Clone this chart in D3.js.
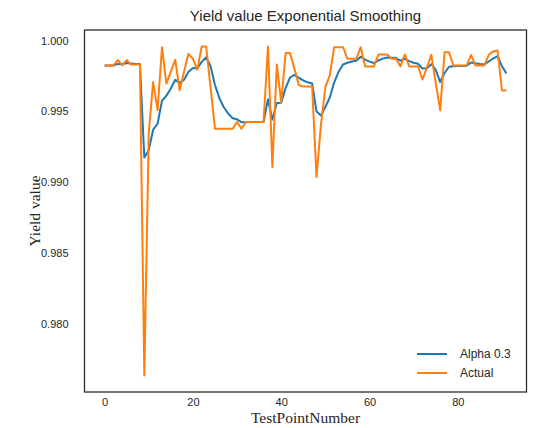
<!DOCTYPE html>
<html>
<head>
<meta charset="utf-8">
<script src="https://cdn.jsdelivr.net/npm/d3@7"></script>
<style>
  body { margin: 0; background: #fff; }
  svg { display: block; }
</style>
</head>
<body>
<svg id="chart" width="533" height="428"></svg>
<script>
// Measured yield per test point
const actual = [
  0.99824, 0.99824, 0.99824, 0.99862, 0.99824, 0.99862, 0.99830, 0.99830, 0.99830, 0.97637,
  0.99350, 0.99707, 0.99509, 0.99953, 0.99696, 0.99780, 0.99864, 0.99649, 0.99780, 0.99906,
  0.99870, 0.99794, 0.99958, 0.99958, 0.99670, 0.99378, 0.99378, 0.99378, 0.99378, 0.99378,
  0.99425, 0.99378, 0.99425, 0.99425, 0.99425, 0.99425, 0.99425, 0.99958, 0.99108, 0.99831,
  0.99566, 0.99911, 0.99911, 0.99800, 0.99685, 0.99676, 0.99676, 0.99676, 0.99038, 0.99407,
  0.99671, 0.99754, 0.99953, 0.99953, 0.99953, 0.99871, 0.99871, 0.99871, 0.99953, 0.99817,
  0.99817, 0.99817, 0.99901, 0.99901, 0.99901, 0.99871, 0.99871, 0.99817, 0.99901, 0.99817,
  0.99817, 0.99817, 0.99725, 0.99810, 0.99899, 0.99700, 0.99507, 0.99918, 0.99918, 0.99824,
  0.99824, 0.99824, 0.99824, 0.99899, 0.99824, 0.99824, 0.99824, 0.99899, 0.99923, 0.99930,
  0.99648, 0.99648
];

// Exponentially smoothed yield (alpha 0.3)
const smoothed = [
  0.99824, 0.99824, 0.99824, 0.99835, 0.99832, 0.99841, 0.99838, 0.99835, 0.99834, 0.99175,
  0.99227, 0.99371, 0.99413, 0.99575, 0.99611, 0.99662, 0.99723, 0.99701, 0.99724, 0.99779,
  0.99806, 0.99803, 0.99849, 0.99882, 0.99818, 0.99686, 0.99594, 0.99529, 0.99484, 0.99452,
  0.99444, 0.99424, 0.99424, 0.99425, 0.99425, 0.99425, 0.99425, 0.99585, 0.99442, 0.99559,
  0.99561, 0.99666, 0.99739, 0.99758, 0.99736, 0.99718, 0.99705, 0.99697, 0.99499, 0.99471,
  0.99531, 0.99598, 0.99705, 0.99779, 0.99831, 0.99843, 0.99852, 0.99857, 0.99886, 0.99865,
  0.99851, 0.99841, 0.99859, 0.99872, 0.99880, 0.99878, 0.99876, 0.99858, 0.99871, 0.99855,
  0.99843, 0.99836, 0.99802, 0.99805, 0.99833, 0.99793, 0.99707, 0.99771, 0.99815, 0.99818,
  0.99820, 0.99821, 0.99822, 0.99845, 0.99839, 0.99834, 0.99831, 0.99852, 0.99873, 0.99890,
  0.99818, 0.99767
];

const xTicks = [0, 20, 40, 60, 80];
const yTicks = [0.980, 0.985, 0.990, 0.995, 1.000];
const seriesNames = ["Alpha 0.3", "Actual"];
const seriesColors = ["#1f77b4", "#ff7f0e"];

const chartTitle = "Yield value Exponential Smoothing";
const xLabel = "TestPointNumber";
const yLabel = "Yield value";

const ink = "#262626";
const sans = "'Liberation Sans', Arial, sans-serif";
const serif = "'Liberation Serif', 'Times New Roman', serif";

const plot = { left: 84.5, top: 30, right: 526.5, bottom: 392 };
const svg = d3.select("#chart");

// Autoscaled limits with 5% padding on each side
const n = actual.length;
const testPoints = d3.range(n);
const xPad = (n - 1) * 0.05;
const x = d3.scaleLinear()
  .domain([-xPad, n - 1 + xPad])
  .range([plot.left, plot.right]);

const [lo, hi] = d3.extent(actual.concat(smoothed));
const yPad = (hi - lo) * 0.05;
const y = d3.scaleLinear()
  .domain([lo - yPad, hi + yPad])
  .range([plot.bottom, plot.top]);

// Axes (no tick marks, labels only)
const xAxis = svg.append("g")
  .attr("transform", `translate(0,${plot.bottom})`)
  .call(d3.axisBottom(x).tickValues(xTicks).tickSize(0).tickPadding(6).tickFormat(d3.format("d")));
const yAxis = svg.append("g")
  .attr("transform", `translate(${plot.left},0)`)
  .call(d3.axisLeft(y).tickValues(yTicks).tickSize(0).tickPadding(16).tickFormat(d3.format(".3f")));

[xAxis, yAxis].forEach(g => {
  g.select(".domain").remove();
  g.selectAll("text")
    .attr("fill", ink)
    .style("font-family", sans)
    .style("font-size", "11px");
});

// Series lines: smoothed first, actual drawn on top
const line = d3.line()
  .x((d, i) => x(testPoints[i]))
  .y(d => y(d));

const clip = svg.append("clipPath").attr("id", "plot-clip")
  .append("rect")
  .attr("x", plot.left).attr("y", plot.top)
  .attr("width", plot.right - plot.left).attr("height", plot.bottom - plot.top);

const lines = svg.append("g").attr("clip-path", "url(#plot-clip)");
[smoothed, actual].forEach((series, k) => {
  lines.append("path")
    .datum(series)
    .attr("d", line)
    .attr("fill", "none")
    .attr("stroke", seriesColors[k])
    .attr("stroke-width", 2)
    .attr("stroke-linejoin", "round")
    .attr("stroke-linecap", "butt");
});

// Frame
svg.append("rect")
  .attr("x", plot.left).attr("y", plot.top)
  .attr("width", plot.right - plot.left).attr("height", plot.bottom - plot.top)
  .attr("fill", "none")
  .attr("stroke", ink)
  .attr("stroke-width", 1.25);

// Title and axis labels
svg.append("text")
  .attr("x", (plot.left + plot.right) / 2).attr("y", 21)
  .attr("text-anchor", "middle")
  .attr("fill", ink)
  .style("font-family", sans).style("font-size", "15px")
  .text(chartTitle);

svg.append("text")
  .attr("x", (plot.left + plot.right) / 2).attr("y", 423)
  .attr("text-anchor", "middle")
  .attr("fill", ink)
  .style("font-family", serif).style("font-size", "15.5px")
  .text(xLabel);

svg.append("text")
  .attr("transform", `translate(40,${(plot.top + plot.bottom) / 2}) rotate(-90)`)
  .attr("text-anchor", "middle")
  .attr("fill", ink)
  .style("font-family", serif).style("font-size", "15.5px")
  .text(yLabel);

// Legend, lower right
const legend = svg.append("g").attr("transform", "translate(417,354)");
seriesNames.forEach((name, k) => {
  const row = legend.append("g").attr("transform", `translate(0,${k * 19})`);
  row.append("line")
    .attr("x1", 0).attr("x2", 30)
    .attr("y1", 0).attr("y2", 0)
    .attr("stroke", seriesColors[k])
    .attr("stroke-width", 2);
  row.append("text")
    .attr("x", 43).attr("y", 0).attr("dy", "0.35em")
    .attr("fill", ink)
    .style("font-family", sans).style("font-size", "12px")
    .text(name);
});
</script>
</body>
</html>
